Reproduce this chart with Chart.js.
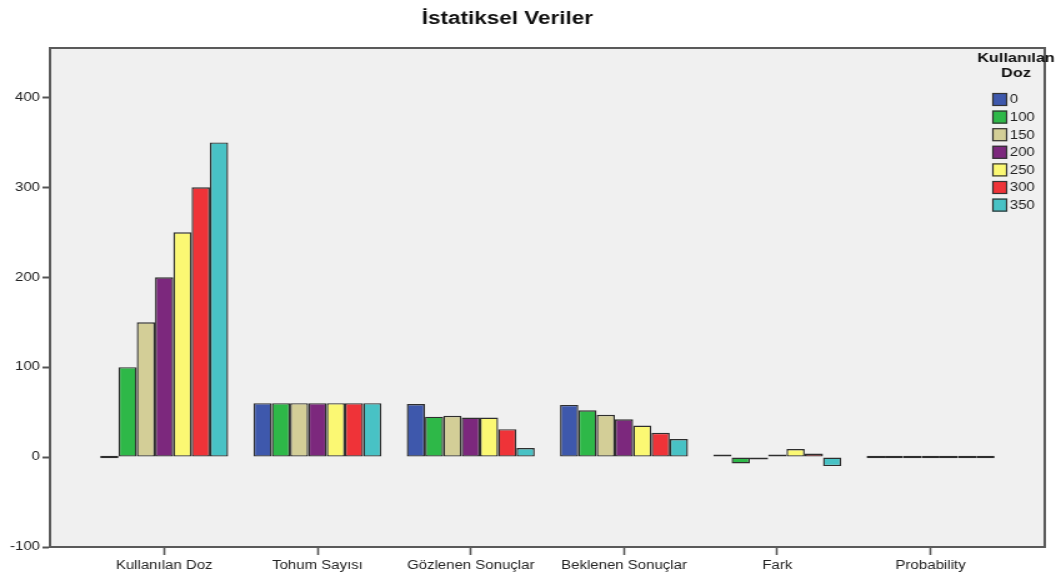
<!DOCTYPE html>
<html>
<head>
<meta charset="utf-8">
<script src="https://cdn.jsdelivr.net/npm/chart.js@4/dist/chart.umd.min.js"></script>
<style>
  html, body { margin: 0; padding: 0; background: #ffffff; overflow: hidden; }
  #wrap { width: 845px; height: 581px; transform-origin: 0 0; transform: scaleX(1.2497); }
  #c { display: block; }
</style>
</head>
<body>
<div id="wrap"><canvas id="c" width="845" height="581"></canvas></div>
<script>
// Variables on the category axis
const categories = ['Kullanılan Doz', 'Tohum Sayısı', 'Gözlenen Sonuçlar', 'Beklenen Sonuçlar', 'Fark', 'Probability'];
// Dose groups (legend entries)
const doses = ['0', '100', '150', '200', '250', '300', '350'];

// One value per dose, for each variable
const kullanilanDoz = [0, 100, 150, 200, 250, 300, 350];
const tohumSayisi   = [60, 60, 60, 60, 60, 60, 60];
const gozlenen      = [59, 45, 46, 44, 44, 31, 10];
const beklenen      = [58, 52, 47, 42, 35, 27, 20];
const fark          = [1, -7, -1, 2, 9, 4, -10];
const probability   = [0, 0, 0, 0, 0, 0, 0];

const yTicks = [-100, 0, 100, 200, 300, 400];
const doseColors = ['#3E58AC', '#2EB848', '#D3CE97', '#7C287D', '#FBF873', '#EF3338', '#48C2C5'];

const byCategory = [kullanilanDoz, tohumSayisi, gozlenen, beklenen, fark, probability];

const datasets = doses.map((d, j) => ({
  label: d,
  data: categories.map((c, i) => ({ x: i, y: byCategory[i][j] })),
  backgroundColor: doseColors[j],
}));

const FONT = '"Liberation Sans", Arial, sans-serif';

// Plot background and frame
const framePlugin = {
  id: 'frame',
  beforeDatasetsDraw(chart) {
    const { ctx, chartArea: a } = chart;
    ctx.save();
    ctx.fillStyle = '#f0f0f0';
    ctx.fillRect(a.left, a.top, a.right - a.left, a.bottom - a.top);
    ctx.restore();
  },
  afterDatasetsDraw(chart) {
    const { ctx, chartArea: a } = chart;
    ctx.save();
    ctx.strokeStyle = '#5a5a5a';
    ctx.lineWidth = 2;
    ctx.strokeRect(a.left, a.top, a.right - a.left, a.bottom - a.top);
    ctx.restore();
  }
};

// Title and dose legend
const textPlugin = {
  id: 'texts',
  afterDraw(chart) {
    const { ctx } = chart;
    ctx.save();
    ctx.fillStyle = '#111';
    ctx.textAlign = 'center';
    ctx.textBaseline = 'alphabetic';
    ctx.font = 'bold 18px ' + FONT;
    ctx.fillText('İstatiksel Veriler', 406, 24);

    ctx.font = 'bold 13px ' + FONT;
    ctx.fillText('Kullanılan', 813, 62);
    ctx.fillText('Doz', 813, 77);

    ctx.textAlign = 'left';
    ctx.textBaseline = 'middle';
    ctx.font = '12px ' + FONT;
    doses.forEach((d, j) => {
      const cy = 99.5 + j * 17.6;
      ctx.fillStyle = doseColors[j];
      ctx.fillRect(794, cy - 6.5, 12, 13);
      ctx.strokeStyle = '#333';
      ctx.lineWidth = 1.2;
      ctx.strokeRect(794.5, cy - 6, 11, 12);
      ctx.fillStyle = '#222';
      ctx.fillText(d, 808, cy + 0.5);
    });
    ctx.restore();
  }
};

new Chart(document.getElementById('c'), {
  type: 'bar',
  data: { datasets },
  plugins: [framePlugin, textPlugin],
  options: {
    responsive: false,
    animation: false,
    layout: { padding: { top: 48, right: 9, left: 0, bottom: 0 } },
    plugins: {
      legend: { display: false },
      title: { display: false },
      tooltip: { enabled: false }
    },
    datasets: {
      bar: {
        categoryPercentage: 0.835,
        barPercentage: 1,
        borderWidth: 1.4,
        borderColor: '#2e2e2e',
        borderSkipped: false,
        minBarLength: 2.5
      }
    },
    scales: {
      x: {
        type: 'linear',
        offset: false,
        min: -0.745,
        max: 5.745,
        afterBuildTicks(axis) { axis.ticks = categories.map((c, i) => ({ value: i })); },
        afterFit(axis) { axis.height = 34; },
        ticks: {
          autoSkip: false,
          maxRotation: 0,
          padding: 3,
          color: '#222',
          font: { family: FONT, size: 12 },
          callback: (v) => categories[v]
        },
        grid: { offset: false, drawOnChartArea: false, tickLength: 8, tickColor: '#555', tickWidth: 1.6 },
        border: { display: true, color: '#5a5a5a', width: 2 }
      },
      y: {
        min: -100,
        max: 455,
        afterBuildTicks(axis) { axis.ticks = yTicks.map(v => ({ value: v })); },
        afterFit(axis) { axis.width = 40; },
        ticks: {
          padding: 2,
          color: '#222',
          font: { family: FONT, size: 12 }
        },
        grid: { drawOnChartArea: false, tickLength: 6, tickColor: '#555', tickWidth: 2 },
        border: { display: true, color: '#5a5a5a', width: 2 }
      }
    }
  }
});
</script>
</body>
</html>
